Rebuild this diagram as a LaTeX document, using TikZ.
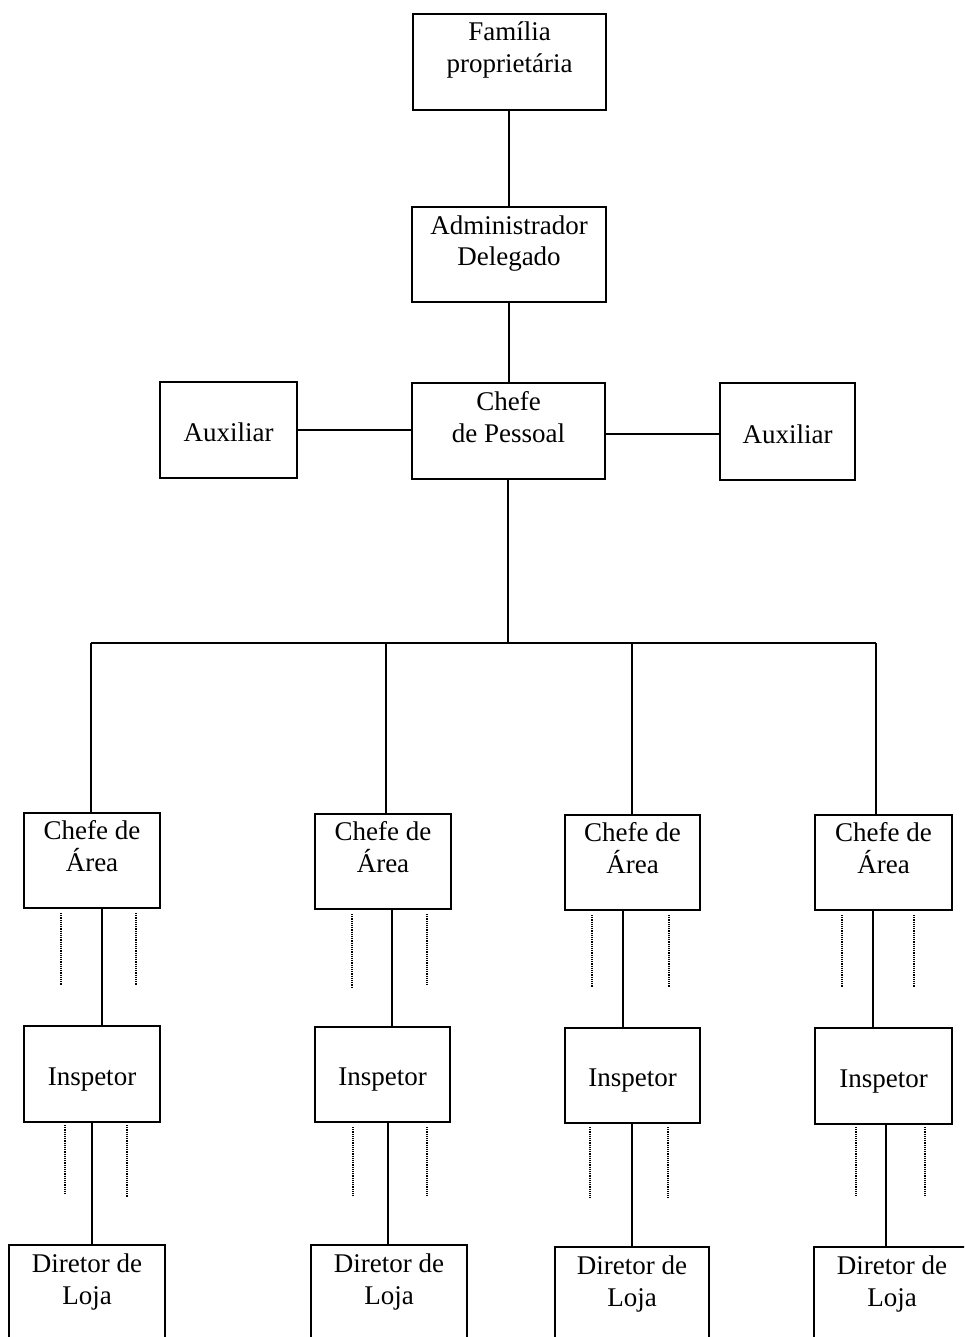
\documentclass[tikz,border=0pt]{standalone}
\usepackage{fontspec}
\setmainfont{Liberation Serif}
\usetikzlibrary{calc}
\begin{document}
\begin{tikzpicture}[x=1pt,y=-1pt,
  box/.style={draw=black,line width=2.2pt,inner sep=0pt,fill=none},
  txt/.style={inner sep=0pt,align=center,font=\fontsize{27}{32}\selectfont,anchor=base},
  conn/.style={draw=black,line width=2pt},
  dotline/.style={draw=black,line width=2.4pt,dash pattern=on 1.2pt off 1pt}]
\useasboundingbox (0,0) rectangle (964,1337);
\clip (0,0) rectangle (964,1337);
\fill[white] (0,0) rectangle (964,1337);

% top chain
\node[box,minimum width=193pt,minimum height=96pt] (fam) at (509.5,62) {};
\node[txt] (famT) at (509.5,73) {Família\\proprietária};
\node[box,minimum width=194pt,minimum height=95pt] (adm) at (509,254.5) {};
\node[txt] (admT) at (509,266) {Administrador\\Delegado};
\node[box,minimum width=193pt,minimum height=96pt] (cdp) at (508.5,431) {};
\node[txt] (cdpT) at (508.5,442) {Chefe\\de Pessoal};
\node[box,minimum width=137pt,minimum height=96pt] (auxL) at (228.5,430) {};
\node[txt] (auxLT) at (228.5,441) {Auxiliar};
\node[box,minimum width=135pt,minimum height=97pt] (auxR) at (787.5,431.5) {};
\node[txt] (auxRT) at (787.5,443) {Auxiliar};

\draw[conn] ($(fam.south)+(-0.5,0)$) -- ($(adm.north)+(0,0)$);
\draw[conn] (adm.south) -- ($(cdp.north)+(0.5,0)$);
\draw[conn] (auxL.east) -- (auxL.east -| cdp.west);
\draw[conn] ($(cdp.east)+(0,3)$) -- ($(cdp.east -| auxR.west)+(0,3)$);

% bus
\coordinate (busC) at (508,643);
\coordinate (bus1) at (91,643);
\coordinate (bus2) at (386,643);
\coordinate (bus3) at (632,643);
\coordinate (bus4) at (876,643);
\draw[conn] ($(cdp.south)+(-0.5,0)$) -- (busC);
\draw[conn] (bus1) -- (bus4);

% chefes de area
\node[box,minimum width=136pt,minimum height=95pt] (ca1) at (92,860.5) {};
\node[txt] (ca1T) at (92,871) {Chefe de\\Área};
\node[box,minimum width=136pt,minimum height=95pt] (ca2) at (383,861.5) {};
\node[txt] (ca2T) at (383,872) {Chefe de\\Área};
\node[box,minimum width=135pt,minimum height=95pt] (ca3) at (632.5,862.5) {};
\node[txt] (ca3T) at (632.5,873) {Chefe de\\Área};
\node[box,minimum width=137pt,minimum height=95pt] (ca4) at (883.5,862.5) {};
\node[txt] (ca4T) at (883.5,873) {Chefe de\\Área};

\draw[conn] (bus1) -- (bus1 |- ca1.north);
\draw[conn] (bus2) -- (bus2 |- ca2.north);
\draw[conn] (bus3) -- (bus3 |- ca3.north);
\draw[conn] (bus4) -- (bus4 |- ca4.north);

% inspetores
\node[box,minimum width=136pt,minimum height=96pt] (in1) at (92,1074) {};
\node[txt] (in1T) at (92,1085) {Inspetor};
\node[box,minimum width=135pt,minimum height=95pt] (in2) at (382.5,1074.5) {};
\node[txt] (in2T) at (382.5,1085) {Inspetor};
\node[box,minimum width=135pt,minimum height=95pt] (in3) at (632.5,1075.5) {};
\node[txt] (in3T) at (632.5,1086) {Inspetor};
\node[box,minimum width=137pt,minimum height=96pt] (in4) at (883.5,1076) {};
\node[txt] (in4T) at (883.5,1087) {Inspetor};

\draw[conn] ($(ca1.south)+(10,0)$) -- ($(in1.north)+(10,0)$);
\draw[conn] ($(ca2.south)+(9,0)$) -- ($(in2.north)+(9.5,0)$);
\draw[conn] ($(ca3.south)+(-9.5,0)$) -- ($(in3.north)+(-9.5,0)$);
\draw[conn] ($(ca4.south)+(-10.5,0)$) -- ($(in4.north)+(-10.5,0)$);

% diretores de loja
\node[box,minimum width=156pt,minimum height=110pt] (dl1) at (87,1300) {};
\node[txt] (dl1T) at (87,1304) {Diretor de\\Loja};
\node[box,minimum width=156pt,minimum height=110pt] (dl2) at (389,1300) {};
\node[txt] (dl2T) at (389,1304) {Diretor de\\Loja};
\node[box,minimum width=154pt,minimum height=110pt] (dl3) at (632,1302) {};
\node[txt] (dl3T) at (632,1306) {Diretor de\\Loja};
\node[box,minimum width=160pt,minimum height=110pt] (dl4) at (894,1302) {};
\node[txt] (dl4T) at (892,1306) {Diretor de\\Loja};

\draw[conn] (in1.south) -- (in1.south |- dl1.north);
\draw[conn] ($(in2.south)+(5.5,0)$) -- ($(in2.south |- dl2.north)+(5.5,0)$);
\draw[conn] ($(in3.south)+(-0.5,0)$) -- ($(in3.south |- dl3.north)+(-0.5,0)$);
\draw[conn] ($(in4.south)+(2.5,0)$) -- ($(in4.south |- dl4.north)+(2.5,0)$);

% dotted lines
\draw[dotline] (61,913) -- (61,985);
\draw[dotline] (136,913) -- (136,985);
\draw[dotline] (65,1125) -- (65,1195);
\draw[dotline] (127,1125) -- (127,1197);
\draw[dotline] (352,914) -- (352,987);
\draw[dotline] (427,914) -- (427,985);
\draw[dotline] (353,1127) -- (353,1197);
\draw[dotline] (427,1127) -- (427,1197);
\draw[dotline] (592,915) -- (592,987);
\draw[dotline] (669,915) -- (669,987);
\draw[dotline] (590,1127) -- (590,1198);
\draw[dotline] (668,1127) -- (668,1198);
\draw[dotline] (842,915) -- (842,987);
\draw[dotline] (914,915) -- (914,987);
\draw[dotline] (856,1127) -- (856,1197);
\draw[dotline] (925,1127) -- (925,1197);
\end{tikzpicture}
\end{document}
